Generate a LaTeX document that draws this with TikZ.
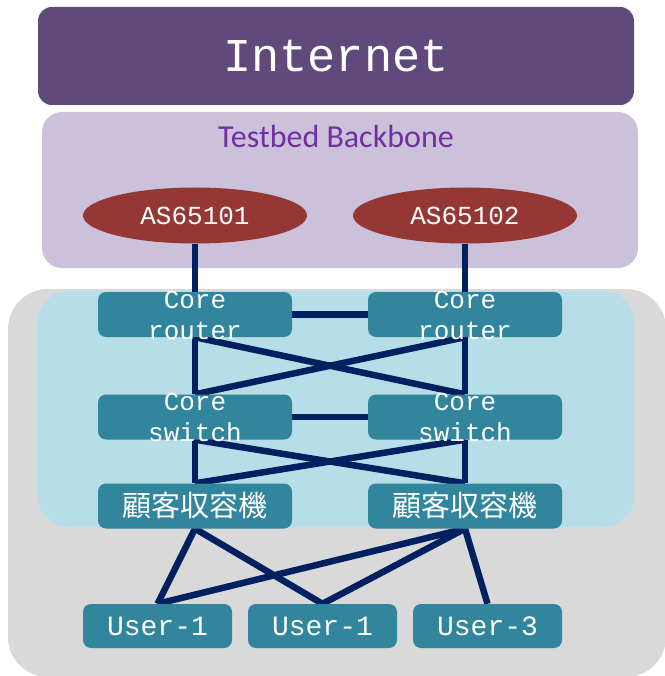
\documentclass[tikz,border=0pt]{standalone}
\usepackage{fontspec}
\newfontfamily\monofont{Liberation Mono}
\newfontfamily\calfont{Carlito}
\newfontfamily\jpfont{Noto Sans CJK JP}
\usepackage{tikz}
\usetikzlibrary{shapes,backgrounds}
\definecolor{inetpurple}{HTML}{604A7B}
\definecolor{bblilac}{HTML}{CCC1DA}
\definecolor{bbtext}{HTML}{7030A0}
\definecolor{asred}{HTML}{953735}
\definecolor{sitegray}{HTML}{D9D9D9}
\definecolor{dclight}{HTML}{B7DEE8}
\definecolor{boxteal}{HTML}{31859C}
\definecolor{linknavy}{HTML}{002060}
\tikzstyle{tbox}=[rectangle,rounded corners=8pt,fill=boxteal,minimum width=194pt,
                minimum height=45pt,inner sep=0]
\tikzstyle{ubox}=[tbox,minimum width=149pt,minimum height=44pt]
\tikzstyle{asnode}=[ellipse,fill=asred,minimum width=224pt,minimum height=56pt,
                inner sep=0,text=white,font=\monofont\fontsize{26}{31}\selectfont]
\tikzstyle{boxtext}=[align=center,inner sep=0,text=white,
                font=\monofont\fontsize{26}{31}\selectfont]
\tikzstyle{link}=[draw=linknavy,line width=6.5pt]

\begin{document}
\begin{tikzpicture}[x=1pt,y=-1pt]
\useasboundingbox (0,0) rectangle (664,676);
\begin{pgfonlayer}{background}
\fill[sitegray,rounded corners=40pt] (8,289) rectangle (666,677);
\fill[dclight,rounded corners=30pt] (38,291) rectangle (634,527);
\fill[bblilac,rounded corners=20pt] (42,112) rectangle (638,268);
\end{pgfonlayer}
% top
\node[rectangle,rounded corners=14pt,fill=inetpurple,minimum width=596pt,
      minimum height=98pt,text=white,font=\monofont\fontsize{47}{50}\selectfont]
      (inet) at (336,56) {Internet};
\node[text=bbtext,font=\calfont\fontsize{32}{36}\selectfont] (bb) at (336,137) {Testbed Backbone};
\node[asnode] (as1) at (195,215.5) {AS65101};
\node[asnode] (as2) at (465,215.5) {AS65102};
% routers and switches
\node[tbox] (cr1) at (195,314.5) {};
\node[tbox] (cr2) at (465,314.5) {};
\node[tbox] (cs1) at (195,417) {};
\node[tbox] (cs2) at (465,417) {};
\node[boxtext] (cr1t) at (195,315) {Core\\router};
\node[boxtext] (cr2t) at (465,315) {Core\\router};
\node[boxtext] (cs1t) at (195,417.5) {Core\\switch};
\node[boxtext] (cs2t) at (465,417.5) {Core\\switch};
\node[tbox,text=white,font=\jpfont\fontsize{29}{32}\selectfont] (ka1) at (195,506) {顧客収容機};
\node[tbox,text=white,font=\jpfont\fontsize{29}{32}\selectfont] (ka2) at (465,506) {顧客収容機};
% users
\node[ubox,text=white,font=\monofont\fontsize{28}{32}\selectfont] (u1) at (157.5,626) {User-1};
\node[ubox,text=white,font=\monofont\fontsize{28}{32}\selectfont] (u2) at (322.5,626) {User-1};
\node[ubox,text=white,font=\monofont\fontsize{28}{32}\selectfont] (u3) at (487.5,626) {User-3};
\begin{pgfonlayer}{background}
\draw[link] (as1.south) -- (cr1.north);
\draw[link] (as2.south) -- (cr2.north);
\draw[link] (cr1.east) -- (cr2.west);
\draw[link] (cs1.east) -- (cs2.west);
\draw[link] (cr1.south) -- (cs1.north);
\draw[link] (cr2.south) -- (cs2.north);
\draw[link] (cr1.south) -- (cs2.north);
\draw[link] (cr2.south) -- (cs1.north);
\draw[link] (cs1.south) -- (ka1.north);
\draw[link] (cs2.south) -- (ka2.north);
\draw[link] (cs1.south) -- (ka2.north);
\draw[link] (cs2.south) -- (ka1.north);
\draw[link] (ka1.south) -- (u1.north);
\draw[link] (ka1.south) -- (u2.north);
\draw[link] (ka2.south) -- (u1.north);
\draw[link] (ka2.south) -- (u2.north);
\draw[link] (ka2.south) -- (u3.north);
\end{pgfonlayer}
\end{tikzpicture}
\end{document}
